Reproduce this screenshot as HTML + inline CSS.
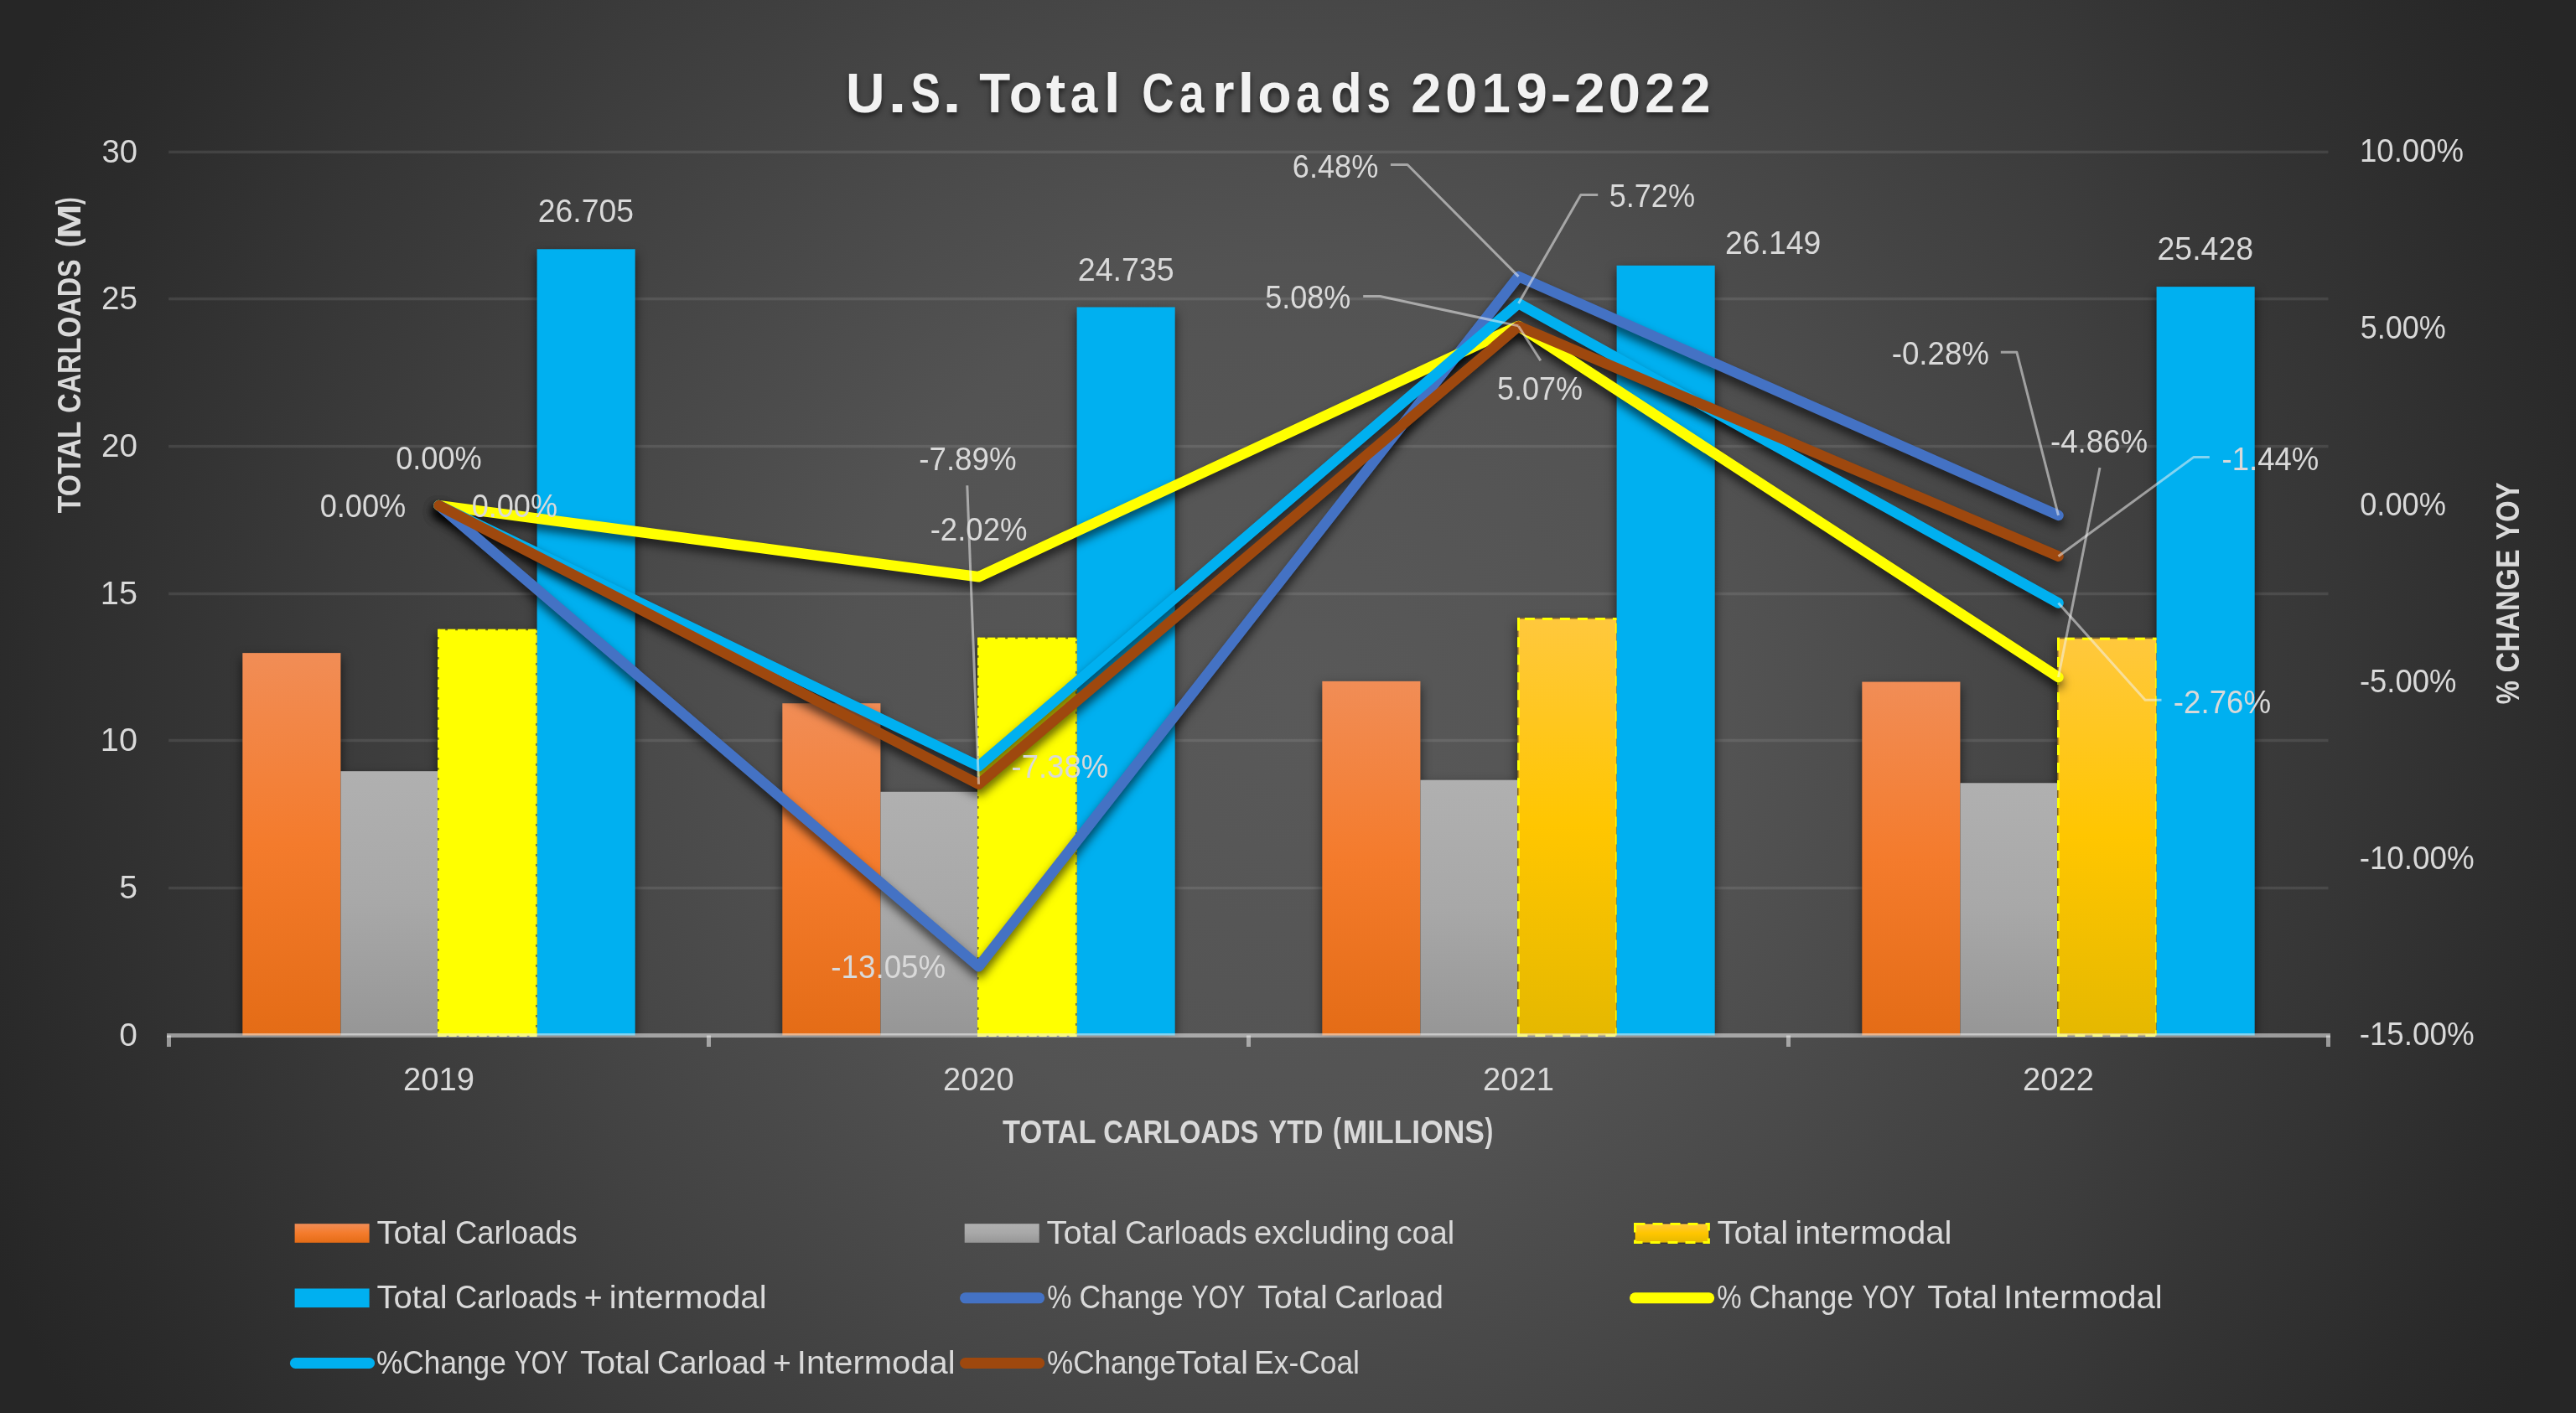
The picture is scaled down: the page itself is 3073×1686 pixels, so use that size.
<!DOCTYPE html>
<html><head><meta charset="utf-8"><title>U.S. Total Carloads 2019-2022</title>
<style>html,body{margin:0;padding:0;background:#262626;width:3073px;height:1686px}svg{display:block;font-family:"Liberation Sans",sans-serif}</style></head><body>
<svg width="3073" height="1686" viewBox="0 0 3073 1686">
<defs>
<radialGradient id="bg" gradientUnits="userSpaceOnUse" cx="1536.5" cy="843" r="1752"><stop offset="0" stop-color="#595959"/><stop offset="0.30" stop-color="#535353"/><stop offset="0.48" stop-color="#474747"/><stop offset="0.875" stop-color="#2b2b2b"/><stop offset="0.96" stop-color="#262626"/><stop offset="1" stop-color="#262626"/></radialGradient>
<linearGradient id="gO" x1="0" y1="0" x2="0" y2="1"><stop offset="0" stop-color="#f18d56"/><stop offset="0.5" stop-color="#f47b2c"/><stop offset="1" stop-color="#e46c16"/></linearGradient>
<linearGradient id="gG" x1="0" y1="0" x2="0" y2="1"><stop offset="0" stop-color="#b0b0b0"/><stop offset="0.5" stop-color="#a8a8a8"/><stop offset="1" stop-color="#969696"/></linearGradient>
<linearGradient id="gY" x1="0" y1="0" x2="0" y2="1"><stop offset="0" stop-color="#ffc83d"/><stop offset="0.5" stop-color="#ffc600"/><stop offset="1" stop-color="#e5b800"/></linearGradient>
<filter id="sh" x="-10%" y="-10%" width="120%" height="120%" color-interpolation-filters="sRGB"><feGaussianBlur in="SourceAlpha" stdDeviation="6.5"/><feOffset dx="0" dy="6" result="b"/><feFlood flood-color="#000" flood-opacity="0.63"/><feComposite in2="b" operator="in"/><feMerge><feMergeNode/><feMergeNode in="SourceGraphic"/></feMerge></filter>
<filter id="shlo" filterUnits="userSpaceOnUse" x="0" y="0" width="3073" height="1686" color-interpolation-filters="sRGB"><feGaussianBlur in="SourceAlpha" stdDeviation="6"/><feOffset dx="0" dy="7" result="b"/><feFlood flood-color="#000" flood-opacity="0.66"/><feComposite in2="b" operator="in"/></filter>
<filter id="sht" x="-5%" y="-30%" width="110%" height="160%" color-interpolation-filters="sRGB"><feGaussianBlur in="SourceAlpha" stdDeviation="3"/><feOffset dx="0" dy="4" result="b"/><feFlood flood-color="#000" flood-opacity="0.55"/><feComposite in2="b" operator="in"/><feMerge><feMergeNode/><feMergeNode in="SourceGraphic"/></feMerge></filter>
<clipPath id="plot"><rect x="0" y="0" width="3073" height="1238.0"/></clipPath>
</defs>
<rect x="0" y="0" width="3073" height="1686" fill="url(#bg)"/>
<rect x="201.2" y="1057.85" width="2576.3" height="3.5" fill="#f2f2f2" fill-opacity="0.10"/>
<rect x="201.2" y="881.75" width="2576.3" height="3.5" fill="#f2f2f2" fill-opacity="0.10"/>
<rect x="201.2" y="706.75" width="2576.3" height="3.5" fill="#f2f2f2" fill-opacity="0.10"/>
<rect x="201.2" y="530.85" width="2576.3" height="3.5" fill="#f2f2f2" fill-opacity="0.10"/>
<rect x="201.2" y="354.85" width="2576.3" height="3.5" fill="#f2f2f2" fill-opacity="0.10"/>
<rect x="201.2" y="179.65" width="2576.3" height="3.5" fill="#f2f2f2" fill-opacity="0.10"/>
<g clip-path="url(#plot)"><g filter="url(#sh)">
<rect x="289.32" y="779.12" width="117.09" height="456.38" fill="url(#gO)"/>
<rect x="406.41" y="920.18" width="117.09" height="315.32" fill="url(#gG)"/>
<rect x="522.00" y="750.74" width="118.59" height="484.76" fill="#ffff00"/>
<rect x="640.59" y="297.26" width="117.09" height="938.24" fill="#00b0f0"/>
<rect x="933.32" y="839.20" width="117.09" height="396.30" fill="url(#gO)"/>
<rect x="1050.41" y="944.77" width="117.09" height="290.73" fill="url(#gG)"/>
<rect x="1166.00" y="760.75" width="118.59" height="474.75" fill="#ffff00"/>
<rect x="1284.59" y="366.48" width="117.09" height="869.02" fill="#00b0f0"/>
<rect x="1577.32" y="812.85" width="117.09" height="422.65" fill="url(#gO)"/>
<rect x="1694.41" y="930.68" width="117.09" height="304.82" fill="url(#gG)"/>
<rect x="1810.00" y="736.97" width="118.59" height="498.53" fill="url(#gY)"/>
<rect x="1928.59" y="316.80" width="117.09" height="918.70" fill="#00b0f0"/>
<rect x="2221.32" y="813.55" width="117.09" height="421.95" fill="url(#gO)"/>
<rect x="2338.41" y="934.27" width="117.09" height="301.23" fill="url(#gG)"/>
<rect x="2454.00" y="760.75" width="118.59" height="474.75" fill="url(#gY)"/>
<rect x="2572.59" y="342.13" width="117.09" height="893.37" fill="#00b0f0"/>
</g></g>
<path d="M523.50 1237.00 V752.24 H640.59" fill="none" stroke="#0a0a28" stroke-opacity="0.6" stroke-width="3"/>
<rect x="523.50" y="752.24" width="117.09" height="483.26" fill="#ffff00"/>
<line x1="639.84" y1="752.24" x2="639.84" y2="1235.50" stroke="#3c5a78" stroke-width="1.5"/>
<line x1="523.50" y1="750.74" x2="523.50" y2="1237.00" stroke="#ffff00" stroke-width="3.00" stroke-dasharray="9.20 2.80" stroke-dashoffset="0.00"/>
<line x1="523.50" y1="752.24" x2="640.59" y2="752.24" stroke="#ffff00" stroke-width="3.00" stroke-dasharray="9.20 2.80" stroke-dashoffset="1.50"/>
<line x1="639.84" y1="752.24" x2="639.84" y2="1235.50" stroke="#ffff00" stroke-width="1.50" stroke-dasharray="9.20 2.80" stroke-dashoffset="6.50"/>
<line x1="523.50" y1="1235.50" x2="640.59" y2="1235.50" stroke="#ffff00" stroke-width="3.00" stroke-dasharray="9.20 2.80" stroke-dashoffset="0.00"/>
<path d="M1167.50 1237.00 V762.25 H1284.59" fill="none" stroke="#0a0a28" stroke-opacity="0.6" stroke-width="3"/>
<rect x="1167.50" y="762.25" width="117.09" height="473.25" fill="#ffff00"/>
<line x1="1283.84" y1="762.25" x2="1283.84" y2="1235.50" stroke="#3c5a78" stroke-width="1.5"/>
<line x1="1167.50" y1="760.75" x2="1167.50" y2="1237.00" stroke="#ffff00" stroke-width="3.00" stroke-dasharray="9.20 2.80" stroke-dashoffset="0.00"/>
<line x1="1167.50" y1="762.25" x2="1284.59" y2="762.25" stroke="#ffff00" stroke-width="3.00" stroke-dasharray="9.20 2.80" stroke-dashoffset="1.50"/>
<line x1="1283.84" y1="762.25" x2="1283.84" y2="1235.50" stroke="#ffff00" stroke-width="1.50" stroke-dasharray="9.20 2.80" stroke-dashoffset="6.50"/>
<line x1="1167.50" y1="1235.50" x2="1284.59" y2="1235.50" stroke="#ffff00" stroke-width="3.00" stroke-dasharray="9.20 2.80" stroke-dashoffset="0.00"/>
<path d="M1810.75 1235.50 V737.72 H1928.59" fill="none" stroke="#1c1c24" stroke-opacity="0.55" stroke-width="1.5"/>
<line x1="1811.50" y1="736.97" x2="1811.50" y2="1237.00" stroke="#ffff00" stroke-width="3.00" stroke-dasharray="12.00 9.00" stroke-dashoffset="18.70"/>
<rect x="1810.00" y="736.97" width="3" height="15.6" fill="#ffff00"/>
<line x1="1811.50" y1="738.47" x2="1928.59" y2="738.47" stroke="#ffff00" stroke-width="3.00" stroke-dasharray="12.00 9.00" stroke-dashoffset="13.60"/>
<line x1="1927.84" y1="738.47" x2="1927.84" y2="1235.50" stroke="#ffff00" stroke-width="1.50" stroke-dasharray="12.00 9.00" stroke-dashoffset="16.00"/>
<line x1="1811.50" y1="1235.50" x2="1928.59" y2="1235.50" stroke="#ffff00" stroke-width="3.00" stroke-dasharray="12.00 9.00" stroke-dashoffset="1.20"/>
<rect x="1810.00" y="1234.00" width="10.5" height="3" fill="#ffff00"/>
<path d="M2454.75 1235.50 V761.50 H2572.59" fill="none" stroke="#1c1c24" stroke-opacity="0.55" stroke-width="1.5"/>
<line x1="2455.50" y1="760.75" x2="2455.50" y2="1237.00" stroke="#ffff00" stroke-width="3.00" stroke-dasharray="12.00 9.00" stroke-dashoffset="18.70"/>
<rect x="2454.00" y="760.75" width="3" height="15.6" fill="#ffff00"/>
<line x1="2455.50" y1="762.25" x2="2572.59" y2="762.25" stroke="#ffff00" stroke-width="3.00" stroke-dasharray="12.00 9.00" stroke-dashoffset="13.60"/>
<line x1="2571.84" y1="762.25" x2="2571.84" y2="1235.50" stroke="#ffff00" stroke-width="1.50" stroke-dasharray="12.00 9.00" stroke-dashoffset="16.00"/>
<line x1="2455.50" y1="1235.50" x2="2572.59" y2="1235.50" stroke="#ffff00" stroke-width="3.00" stroke-dasharray="12.00 9.00" stroke-dashoffset="1.20"/>
<rect x="2454.00" y="1234.00" width="10.5" height="3" fill="#ffff00"/>
<rect x="199.0" y="1233.00" width="2581.0" height="5" fill="#f2f2f2" fill-opacity="0.54"/>
<rect x="199.00" y="1235.50" width="5" height="13.5" fill="#f2f2f2" fill-opacity="0.54"/>
<rect x="843.00" y="1235.50" width="5" height="13.5" fill="#f2f2f2" fill-opacity="0.54"/>
<rect x="1487.00" y="1235.50" width="5" height="13.5" fill="#f2f2f2" fill-opacity="0.54"/>
<rect x="2131.00" y="1235.50" width="5" height="13.5" fill="#f2f2f2" fill-opacity="0.54"/>
<rect x="2775.00" y="1235.50" width="5" height="13.5" fill="#f2f2f2" fill-opacity="0.54"/>
<g fill="none" stroke-width="12.5" stroke-linecap="round" stroke-linejoin="round">
<polyline points="523.50,603.10 1167.50,1153.29 1811.50,329.90 2455.50,614.90" stroke="#000" filter="url(#shlo)"/>
<polyline points="523.50,603.10 1167.50,688.26 1811.50,388.93 2455.50,808.00" stroke="#000" filter="url(#shlo)"/>
<polyline points="523.50,603.10 1167.50,914.24 1811.50,361.94 2455.50,719.46" stroke="#000" filter="url(#shlo)"/>
<polyline points="523.50,603.10 1167.50,935.74 1811.50,389.35 2455.50,663.81" stroke="#000" filter="url(#shlo)"/>
<polyline points="523.50,603.10 1167.50,1153.29 1811.50,329.90 2455.50,614.90" stroke="#4472c4"/>
<polyline points="523.50,603.10 1167.50,688.26 1811.50,388.93 2455.50,808.00" stroke="#ffff00"/>
<polyline points="523.50,603.10 1167.50,914.24 1811.50,361.94 2455.50,719.46" stroke="#00b0f0"/>
<polyline points="523.50,603.10 1167.50,935.74 1811.50,389.35 2455.50,663.81" stroke="#9e480e"/>
</g>
<polyline points="1153.8,579.2 1167.5,935.7" stroke="#f2f2f2" stroke-opacity="0.54" stroke-width="3" fill="none" stroke-linejoin="round"/>
<polyline points="1658.9,196.5 1679.0,196.5 1811.5,329.9" stroke="#f2f2f2" stroke-opacity="0.54" stroke-width="3" fill="none" stroke-linejoin="round"/>
<polyline points="1906.2,232.4 1885.8,232.4 1811.5,361.9" stroke="#f2f2f2" stroke-opacity="0.54" stroke-width="3" fill="none" stroke-linejoin="round"/>
<polyline points="1626.2,353.5 1646.3,353.5 1811.5,388.9" stroke="#f2f2f2" stroke-opacity="0.54" stroke-width="3" fill="none" stroke-linejoin="round"/>
<polyline points="1837.8,430.3 1811.5,389.3" stroke="#f2f2f2" stroke-opacity="0.54" stroke-width="3" fill="none" stroke-linejoin="round"/>
<polyline points="2386.8,420.3 2405.9,420.3 2455.5,614.9" stroke="#f2f2f2" stroke-opacity="0.54" stroke-width="3" fill="none" stroke-linejoin="round"/>
<polyline points="2505.0,558.0 2455.5,808.0" stroke="#f2f2f2" stroke-opacity="0.54" stroke-width="3" fill="none" stroke-linejoin="round"/>
<polyline points="2635.8,545.6 2616.7,545.6 2455.5,663.8" stroke="#f2f2f2" stroke-opacity="0.54" stroke-width="3" fill="none" stroke-linejoin="round"/>
<polyline points="2578.5,835.3 2559.1,835.3 2455.5,719.5" stroke="#f2f2f2" stroke-opacity="0.54" stroke-width="3" fill="none" stroke-linejoin="round"/>
<g style="will-change:transform">
<g filter="url(#sht)">
<text x="1009.03" y="133.60" font-size="67.30" font-weight="bold" fill="#f2f2f2" textLength="46.50" lengthAdjust="spacingAndGlyphs">U</text>
<text x="1059.51" y="133.60" font-size="67.30" font-weight="bold" fill="#f2f2f2" textLength="22.05" lengthAdjust="spacingAndGlyphs">.</text>
<text x="1086.47" y="133.60" font-size="67.30" font-weight="bold" fill="#f2f2f2" textLength="35.40" lengthAdjust="spacingAndGlyphs">S</text>
<text x="1124.27" y="133.60" font-size="67.30" font-weight="bold" fill="#f2f2f2" textLength="22.64" lengthAdjust="spacingAndGlyphs">.</text>
<text x="1168.22" y="133.60" font-size="67.30" font-weight="bold" fill="#f2f2f2" textLength="36.93" lengthAdjust="spacingAndGlyphs">T</text>
<text x="1203.74" y="133.60" font-size="67.30" font-weight="bold" fill="#f2f2f2" textLength="40.02" lengthAdjust="spacingAndGlyphs">o</text>
<text x="1247.74" y="133.60" font-size="67.30" font-weight="bold" fill="#f2f2f2" textLength="23.52" lengthAdjust="spacingAndGlyphs">t</text>
<text x="1276.78" y="133.60" font-size="67.30" font-weight="bold" fill="#f2f2f2" textLength="32.65" lengthAdjust="spacingAndGlyphs">a</text>
<text x="1316.71" y="133.60" font-size="67.30" font-weight="bold" fill="#f2f2f2" textLength="19.84" lengthAdjust="spacingAndGlyphs">l</text>
<text x="1362.13" y="133.60" font-size="67.30" font-weight="bold" fill="#f2f2f2" textLength="38.22" lengthAdjust="spacingAndGlyphs">C</text>
<text x="1406.83" y="133.60" font-size="67.30" font-weight="bold" fill="#f2f2f2" textLength="29.83" lengthAdjust="spacingAndGlyphs">a</text>
<text x="1446.35" y="133.60" font-size="67.30" font-weight="bold" fill="#f2f2f2" textLength="26.27" lengthAdjust="spacingAndGlyphs">r</text>
<text x="1476.51" y="133.60" font-size="67.30" font-weight="bold" fill="#f2f2f2" textLength="19.84" lengthAdjust="spacingAndGlyphs">l</text>
<text x="1500.31" y="133.60" font-size="67.30" font-weight="bold" fill="#f2f2f2" textLength="40.48" lengthAdjust="spacingAndGlyphs">o</text>
<text x="1546.11" y="133.60" font-size="67.30" font-weight="bold" fill="#f2f2f2" textLength="30.14" lengthAdjust="spacingAndGlyphs">a</text>
<text x="1587.28" y="133.60" font-size="67.30" font-weight="bold" fill="#f2f2f2" textLength="37.46" lengthAdjust="spacingAndGlyphs">d</text>
<text x="1630.51" y="133.60" font-size="67.30" font-weight="bold" fill="#f2f2f2" textLength="28.39" lengthAdjust="spacingAndGlyphs">s</text>
<text x="1683.35" y="133.60" font-size="66.00" font-weight="bold" fill="#f2f2f2" textLength="36.16" lengthAdjust="spacingAndGlyphs">2</text>
<text x="1724.07" y="133.60" font-size="66.00" font-weight="bold" fill="#f2f2f2" textLength="38.36" lengthAdjust="spacingAndGlyphs">0</text>
<text x="1767.84" y="133.60" font-size="66.00" font-weight="bold" fill="#f2f2f2" textLength="34.06" lengthAdjust="spacingAndGlyphs">1</text>
<text x="1808.47" y="133.60" font-size="66.00" font-weight="bold" fill="#f2f2f2" textLength="37.43" lengthAdjust="spacingAndGlyphs">9</text>
<text x="1849.48" y="133.60" font-size="67.30" font-weight="bold" fill="#f2f2f2" textLength="24.92" lengthAdjust="spacingAndGlyphs">-</text>
<text x="1878.14" y="133.60" font-size="66.00" font-weight="bold" fill="#f2f2f2" textLength="36.27" lengthAdjust="spacingAndGlyphs">2</text>
<text x="1918.56" y="133.60" font-size="66.00" font-weight="bold" fill="#f2f2f2" textLength="38.59" lengthAdjust="spacingAndGlyphs">0</text>
<text x="1962.27" y="133.60" font-size="66.00" font-weight="bold" fill="#f2f2f2" textLength="35.81" lengthAdjust="spacingAndGlyphs">2</text>
<text x="2004.13" y="133.60" font-size="66.00" font-weight="bold" fill="#f2f2f2" textLength="36.39" lengthAdjust="spacingAndGlyphs">2</text>
</g>
<text x="142.28" y="1247.50" font-size="38.00" fill="#d9d9d9" textLength="21.64" lengthAdjust="spacingAndGlyphs">0</text>
<text x="142.23" y="1071.83" font-size="38.00" fill="#d9d9d9" textLength="21.82" lengthAdjust="spacingAndGlyphs">5</text>
<text x="119.88" y="896.17" font-size="38.00" fill="#d9d9d9" textLength="44.07" lengthAdjust="spacingAndGlyphs">10</text>
<text x="119.87" y="720.50" font-size="38.00" fill="#d9d9d9" textLength="44.19" lengthAdjust="spacingAndGlyphs">15</text>
<text x="120.96" y="544.83" font-size="38.00" fill="#d9d9d9" textLength="42.95" lengthAdjust="spacingAndGlyphs">20</text>
<text x="120.95" y="369.17" font-size="38.00" fill="#d9d9d9" textLength="43.07" lengthAdjust="spacingAndGlyphs">25</text>
<text x="121.45" y="193.50" font-size="38.00" fill="#d9d9d9" textLength="42.44" lengthAdjust="spacingAndGlyphs">30</text>
<text x="2815.02" y="193.30" font-size="38.00" fill="#d9d9d9" textLength="123.99" lengthAdjust="spacingAndGlyphs">10.00%</text>
<text x="2815.76" y="404.10" font-size="38.00" fill="#d9d9d9" textLength="102.02" lengthAdjust="spacingAndGlyphs">5.00%</text>
<text x="2815.19" y="614.90" font-size="38.00" fill="#d9d9d9" textLength="102.71" lengthAdjust="spacingAndGlyphs">0.00%</text>
<text x="2814.98" y="825.70" font-size="38.00" fill="#d9d9d9" textLength="115.42" lengthAdjust="spacingAndGlyphs">-5.00%</text>
<text x="2814.67" y="1036.50" font-size="38.00" fill="#d9d9d9" textLength="137.05" lengthAdjust="spacingAndGlyphs">-10.00%</text>
<text x="2814.67" y="1247.30" font-size="38.00" fill="#d9d9d9" textLength="137.05" lengthAdjust="spacingAndGlyphs">-15.00%</text>
<text x="480.98" y="1300.60" font-size="38.00" fill="#d9d9d9" textLength="84.93" lengthAdjust="spacingAndGlyphs">2019</text>
<text x="1124.99" y="1300.60" font-size="38.00" fill="#d9d9d9" textLength="84.60" lengthAdjust="spacingAndGlyphs">2020</text>
<text x="1768.98" y="1300.60" font-size="38.00" fill="#d9d9d9" textLength="84.99" lengthAdjust="spacingAndGlyphs">2021</text>
<text x="2412.98" y="1300.60" font-size="38.00" fill="#d9d9d9" textLength="85.05" lengthAdjust="spacingAndGlyphs">2022</text>
<text x="1196.02" y="1364.20" font-size="39.00" font-weight="bold" fill="#d9d9d9" textLength="111.40" lengthAdjust="spacingAndGlyphs">TOTAL</text>
<text x="1316.36" y="1364.20" font-size="39.00" font-weight="bold" fill="#d9d9d9" textLength="185.01" lengthAdjust="spacingAndGlyphs">CARLOADS</text>
<text x="1513.55" y="1364.20" font-size="39.00" font-weight="bold" fill="#d9d9d9" textLength="64.92" lengthAdjust="spacingAndGlyphs">YTD</text>
<text x="1601.73" y="1364.20" font-size="39.00" font-weight="bold" fill="#d9d9d9" textLength="169.25" lengthAdjust="spacingAndGlyphs">MILLIONS</text>
<text x="1590.12" y="1362.90" font-size="41.30" font-weight="bold" fill="#d9d9d9" textLength="9.91" lengthAdjust="spacingAndGlyphs">(</text>
<text x="1771.57" y="1362.90" font-size="41.30" font-weight="bold" fill="#d9d9d9" textLength="9.68" lengthAdjust="spacingAndGlyphs">)</text>
<text transform="translate(96.00 612.17) rotate(-90)" x="0" y="0" font-size="39.50" font-weight="bold" fill="#d9d9d9" textLength="109.48" lengthAdjust="spacingAndGlyphs">TOTAL</text>
<text transform="translate(96.00 492.63) rotate(-90)" x="0" y="0" font-size="39.50" font-weight="bold" fill="#d9d9d9" textLength="183.29" lengthAdjust="spacingAndGlyphs">CARLOADS</text>
<text transform="translate(96.00 284.94) rotate(-90)" x="0" y="0" font-size="39.50" font-weight="bold" fill="#d9d9d9" textLength="41.58" lengthAdjust="spacingAndGlyphs">M</text>
<text transform="translate(93.85 295.16) rotate(-90)" x="0" y="0" font-size="38.40" font-weight="bold" fill="#d9d9d9" textLength="11.09" lengthAdjust="spacingAndGlyphs">(</text>
<text transform="translate(93.85 244.23) rotate(-90)" x="0" y="0" font-size="38.40" font-weight="bold" fill="#d9d9d9" textLength="8.73" lengthAdjust="spacingAndGlyphs">)</text>
<text transform="translate(3004.90 840.29) rotate(-90)" x="0" y="0" font-size="39.50" font-weight="bold" fill="#d9d9d9" textLength="28.12" lengthAdjust="spacingAndGlyphs">%</text>
<text transform="translate(3004.90 802.39) rotate(-90)" x="0" y="0" font-size="39.50" font-weight="bold" fill="#d9d9d9" textLength="147.02" lengthAdjust="spacingAndGlyphs">CHANGE</text>
<text transform="translate(3004.90 644.46) rotate(-90)" x="0" y="0" font-size="39.50" font-weight="bold" fill="#d9d9d9" textLength="68.88" lengthAdjust="spacingAndGlyphs">YOY</text>
<text x="641.82" y="265.30" font-size="38.00" fill="#d9d9d9" textLength="114.25" lengthAdjust="spacingAndGlyphs">26.705</text>
<text x="1285.71" y="335.30" font-size="38.00" fill="#d9d9d9" textLength="115.07" lengthAdjust="spacingAndGlyphs">24.735</text>
<text x="2058.12" y="303.10" font-size="38.00" fill="#d9d9d9" textLength="114.04" lengthAdjust="spacingAndGlyphs">26.149</text>
<text x="2573.52" y="310.30" font-size="38.00" fill="#d9d9d9" textLength="114.51" lengthAdjust="spacingAndGlyphs">25.428</text>
<text x="472.19" y="559.80" font-size="38.00" fill="#d9d9d9" textLength="102.60" lengthAdjust="spacingAndGlyphs">0.00%</text>
<text x="381.69" y="617.00" font-size="38.00" fill="#d9d9d9" textLength="102.60" lengthAdjust="spacingAndGlyphs">0.00%</text>
<text x="562.69" y="617.00" font-size="38.00" fill="#d9d9d9" textLength="102.30" lengthAdjust="spacingAndGlyphs">0.00%</text>
<text x="1096.27" y="561.10" font-size="38.00" fill="#d9d9d9" textLength="116.24" lengthAdjust="spacingAndGlyphs">-7.89%</text>
<text x="1109.68" y="645.00" font-size="38.00" fill="#d9d9d9" textLength="115.83" lengthAdjust="spacingAndGlyphs">-2.02%</text>
<text x="991.37" y="1166.90" font-size="38.00" fill="#d9d9d9" textLength="136.84" lengthAdjust="spacingAndGlyphs">-13.05%</text>
<text x="1206.58" y="928.00" font-size="38.00" fill="#d9d9d9" textLength="115.52" lengthAdjust="spacingAndGlyphs">-7.38%</text>
<text x="1541.87" y="211.70" font-size="38.00" fill="#d9d9d9" textLength="102.42" lengthAdjust="spacingAndGlyphs">6.48%</text>
<text x="1919.65" y="246.60" font-size="38.00" fill="#d9d9d9" textLength="102.43" lengthAdjust="spacingAndGlyphs">5.72%</text>
<text x="1509.26" y="368.20" font-size="38.00" fill="#d9d9d9" textLength="102.02" lengthAdjust="spacingAndGlyphs">5.08%</text>
<text x="1786.06" y="476.70" font-size="38.00" fill="#d9d9d9" textLength="101.92" lengthAdjust="spacingAndGlyphs">5.07%</text>
<text x="2256.77" y="434.80" font-size="38.00" fill="#d9d9d9" textLength="116.14" lengthAdjust="spacingAndGlyphs">-0.28%</text>
<text x="2445.97" y="539.90" font-size="38.00" fill="#d9d9d9" textLength="116.14" lengthAdjust="spacingAndGlyphs">-4.86%</text>
<text x="2650.48" y="561.10" font-size="38.00" fill="#d9d9d9" textLength="115.83" lengthAdjust="spacingAndGlyphs">-1.44%</text>
<text x="2592.87" y="850.50" font-size="38.00" fill="#d9d9d9" textLength="116.14" lengthAdjust="spacingAndGlyphs">-2.76%</text>
<rect x="351.6" y="1460.2" width="89" height="22.6" fill="url(#gO)"/>
<text x="449.45" y="1483.50" font-size="39.00" fill="#d9d9d9" textLength="84.29" lengthAdjust="spacingAndGlyphs">Total</text>
<text x="543.05" y="1483.50" font-size="39.00" fill="#d9d9d9" textLength="145.77" lengthAdjust="spacingAndGlyphs">Carloads</text>
<rect x="1150.7" y="1460.2" width="89" height="22.6" fill="url(#gG)"/>
<text x="1248.55" y="1483.50" font-size="39.00" fill="#d9d9d9" textLength="84.50" lengthAdjust="spacingAndGlyphs">Total</text>
<text x="1342.05" y="1483.50" font-size="39.00" fill="#d9d9d9" textLength="145.77" lengthAdjust="spacingAndGlyphs">Carloads</text>
<text x="1496.08" y="1483.50" font-size="39.00" fill="#d9d9d9" textLength="161.59" lengthAdjust="spacingAndGlyphs">excluding</text>
<text x="1665.69" y="1483.50" font-size="39.00" fill="#d9d9d9" textLength="69.44" lengthAdjust="spacingAndGlyphs">coal</text>
<rect x="1950.5" y="1460.4" width="87.9" height="22.2" fill="none" stroke="#1a1a30" stroke-opacity="0.4" stroke-width="3"/>
<rect x="1950.5" y="1460.4" width="87.9" height="22.2" fill="url(#gY)" stroke="#ffff00" stroke-width="3" stroke-dasharray="12 9"/>
<text x="2048.55" y="1483.50" font-size="39.00" fill="#d9d9d9" textLength="84.50" lengthAdjust="spacingAndGlyphs">Total</text>
<text x="2141.22" y="1483.50" font-size="39.00" fill="#d9d9d9" textLength="187.16" lengthAdjust="spacingAndGlyphs">intermodal</text>
<rect x="351.6" y="1537.5" width="89" height="22.6" fill="#00b0f0"/>
<text x="449.45" y="1560.80" font-size="39.00" fill="#d9d9d9" textLength="84.29" lengthAdjust="spacingAndGlyphs">Total</text>
<text x="543.05" y="1560.80" font-size="39.00" fill="#d9d9d9" textLength="145.77" lengthAdjust="spacingAndGlyphs">Carloads</text>
<text x="696.77" y="1560.80" font-size="39.00" fill="#d9d9d9" textLength="21.88" lengthAdjust="spacingAndGlyphs">+</text>
<text x="726.81" y="1560.80" font-size="39.00" fill="#d9d9d9" textLength="187.78" lengthAdjust="spacingAndGlyphs">intermodal</text>
<line x1="1151.5" y1="1548.8" x2="1239.7" y2="1548.8" stroke="#4472c4" stroke-width="13" stroke-linecap="round"/>
<text x="1249.13" y="1560.80" font-size="39.00" fill="#d9d9d9" textLength="29.14" lengthAdjust="spacingAndGlyphs">%</text>
<text x="1287.40" y="1560.80" font-size="39.00" fill="#d9d9d9" textLength="124.28" lengthAdjust="spacingAndGlyphs">Change</text>
<text x="1421.53" y="1560.80" font-size="39.00" fill="#d9d9d9" textLength="64.03" lengthAdjust="spacingAndGlyphs">YOY</text>
<text x="1499.95" y="1560.80" font-size="39.00" fill="#d9d9d9" textLength="83.98" lengthAdjust="spacingAndGlyphs">Total</text>
<text x="1592.22" y="1560.80" font-size="39.00" fill="#d9d9d9" textLength="129.67" lengthAdjust="spacingAndGlyphs">Carload</text>
<line x1="1950.5" y1="1548.8" x2="2038.7" y2="1548.8" stroke="#ffff00" stroke-width="13" stroke-linecap="round"/>
<text x="2048.22" y="1560.80" font-size="39.00" fill="#d9d9d9" textLength="29.35" lengthAdjust="spacingAndGlyphs">%</text>
<text x="2086.39" y="1560.80" font-size="39.00" fill="#d9d9d9" textLength="124.69" lengthAdjust="spacingAndGlyphs">Change</text>
<text x="2221.54" y="1560.80" font-size="39.00" fill="#d9d9d9" textLength="63.42" lengthAdjust="spacingAndGlyphs">YOY</text>
<text x="2299.36" y="1560.80" font-size="39.00" fill="#d9d9d9" textLength="83.56" lengthAdjust="spacingAndGlyphs">Total</text>
<text x="2390.09" y="1560.80" font-size="39.00" fill="#d9d9d9" textLength="189.69" lengthAdjust="spacingAndGlyphs">Intermodal</text>
<line x1="352.4" y1="1626.5" x2="440.6" y2="1626.5" stroke="#00b0f0" stroke-width="13" stroke-linecap="round"/>
<text x="449.04" y="1638.50" font-size="39.00" fill="#d9d9d9" textLength="154.72" lengthAdjust="spacingAndGlyphs">%Change</text>
<text x="613.63" y="1638.50" font-size="39.00" fill="#d9d9d9" textLength="64.03" lengthAdjust="spacingAndGlyphs">YOY</text>
<text x="692.05" y="1638.50" font-size="39.00" fill="#d9d9d9" textLength="83.87" lengthAdjust="spacingAndGlyphs">Total</text>
<text x="783.91" y="1638.50" font-size="39.00" fill="#d9d9d9" textLength="130.39" lengthAdjust="spacingAndGlyphs">Carload</text>
<text x="921.88" y="1638.50" font-size="39.00" fill="#d9d9d9" textLength="21.76" lengthAdjust="spacingAndGlyphs">+</text>
<text x="950.81" y="1638.50" font-size="39.00" fill="#d9d9d9" textLength="188.76" lengthAdjust="spacingAndGlyphs">Intermodal</text>
<line x1="1151.5" y1="1626.5" x2="1239.7" y2="1626.5" stroke="#9e480e" stroke-width="13" stroke-linecap="round"/>
<text x="1249.05" y="1638.50" font-size="39.00" fill="#d9d9d9" textLength="153.91" lengthAdjust="spacingAndGlyphs">%Change</text>
<text x="1402.63" y="1638.50" font-size="39.00" fill="#d9d9d9" textLength="86.48" lengthAdjust="spacingAndGlyphs">Total</text>
<text x="1496.30" y="1638.50" font-size="39.00" fill="#d9d9d9" textLength="125.66" lengthAdjust="spacingAndGlyphs">Ex-Coal</text>
</g>
</svg></body></html>
